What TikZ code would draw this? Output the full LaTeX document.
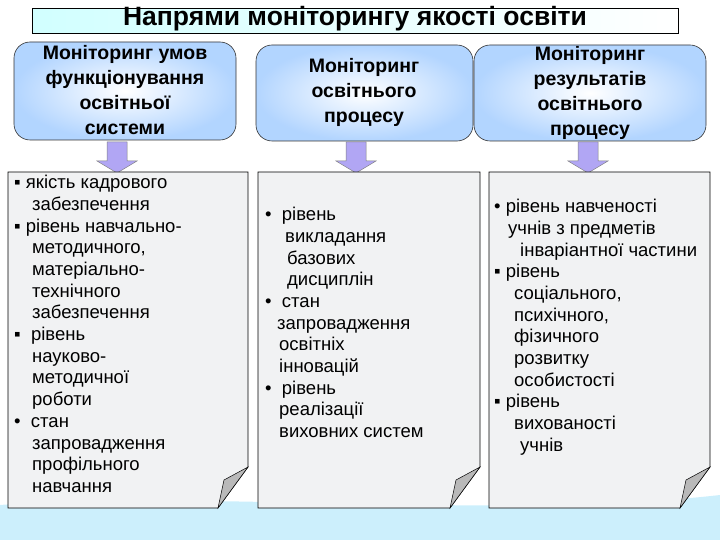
\documentclass[tikz,border=0pt]{standalone}
\usepackage{fontspec}
\setmainfont{Liberation Sans}
\begin{document}
\begin{tikzpicture}[x=1pt,y=-1pt,
  top/.style={draw=black!80,rounded corners=16pt,inner color=white,outer color=cyan!45!blue!30,line width=0.6pt},
  arr/.style={draw=black!50,fill=violet!25!blue!35,line width=0.5pt},
  panel/.style={draw=black,fill=cyan!8!gray!12,line width=0.7pt},
  curl/.style={draw=black,fill=gray!55,line width=0.5pt},
  txt/.style={font=\fontsize{18.5}{21.7}\selectfont,align=left,anchor=north west,inner sep=0pt},
  hd/.style={font=\bfseries\fontsize{19.5}{25}\selectfont,align=center}]
\useasboundingbox (0,0) rectangle (720,540);
\fill[cyan!20!white] (0,505) .. controls (200,490) and (500,520) .. (720,495) -- (720,540) -- (0,540) -- cycle;
% title
\node[draw=black,left color=cyan!18,right color=white,minimum width=646pt,minimum height=25pt,inner sep=0pt] (title) at (355,21) {};
\node[font=\bfseries\fontsize{26.5}{28}\selectfont] (tt) at (355,20) {\underline{Напрями моніторингу якості освіти}};
% top boxes
\draw[top] (14,42) rectangle (236,140);
\node[hd] (h1) at (125,90) {Моніторинг умов\\функціонування \\ освітньої\\ системи};
\draw[top] (256,45) rectangle (473,141);
\node[hd] (h2) at (364,92) {Моніторинг\\освітнього\\процесу};
\draw[top] (474,45) rectangle (706,141);
\node[hd] (h3) at (590,93) {Моніторинг\\результатів\\освітнього\\процесу};
% arrows
\foreach \c/\n in {117/a1,356/a2,588/a3}{
  \draw[arr] (\c-10,142) -- (\c+10,142) -- (\c+10,161) -- (\c+20,161) -- (\c,173) -- (\c-20,161) -- (\c-10,161) -- cycle;
}
% panels
\foreach \l/\r in {8/248,258/480,489/710}{
  \draw[panel] (\l,172) -- (\r,172) -- (\r,467) -- (\r-30,508) -- (\l,508) -- cycle;
  \draw[curl] (\r,467) -- (\r-30,508) -- (\r-24,480) -- cycle;
}
\node[txt] (t1) at (14,175) {▪ якість кадрового\\\hspace{18pt}забезпечення\\▪ рівень навчально-\\\hspace{18pt}методичного,\\\hspace{18pt}матеріально-\\\hspace{18pt}технічного\\\hspace{18pt}забезпечення\\▪\ \ рівень\\\hspace{18pt}науково-\\\hspace{18pt}методичної\\\hspace{18pt}роботи\\•\ \ стан\\\hspace{18pt}запровадження\\\hspace{18pt}профільного\\\hspace{18pt}навчання};
\node[txt] (t2) at (265,207) {•\ \ рівень\\\hspace{20pt}викладання\\\hspace{22pt}базових\\\hspace{22pt}дисциплін\\•\ \ стан\\\hspace{12pt}запровадження\\\hspace{14pt}освітніх\\\hspace{14pt}інновацій\\•\ \ рівень\\\hspace{14pt}реалізації\\\hspace{14pt}виховних систем};
\node[txt] (t3) at (494,199) {• рівень навченості\\\hspace{14pt}учнів з предметів\\\hspace{26pt}інваріантної частини\\▪ рівень\\\hspace{20pt}соціального,\\\hspace{20pt}психічного,\\\hspace{20pt}фізичного\\\hspace{20pt}розвитку\\\hspace{20pt}особистості\\▪ рівень\\\hspace{20pt}вихованості\\\hspace{26pt}учнів};
\end{tikzpicture}
\end{document}
